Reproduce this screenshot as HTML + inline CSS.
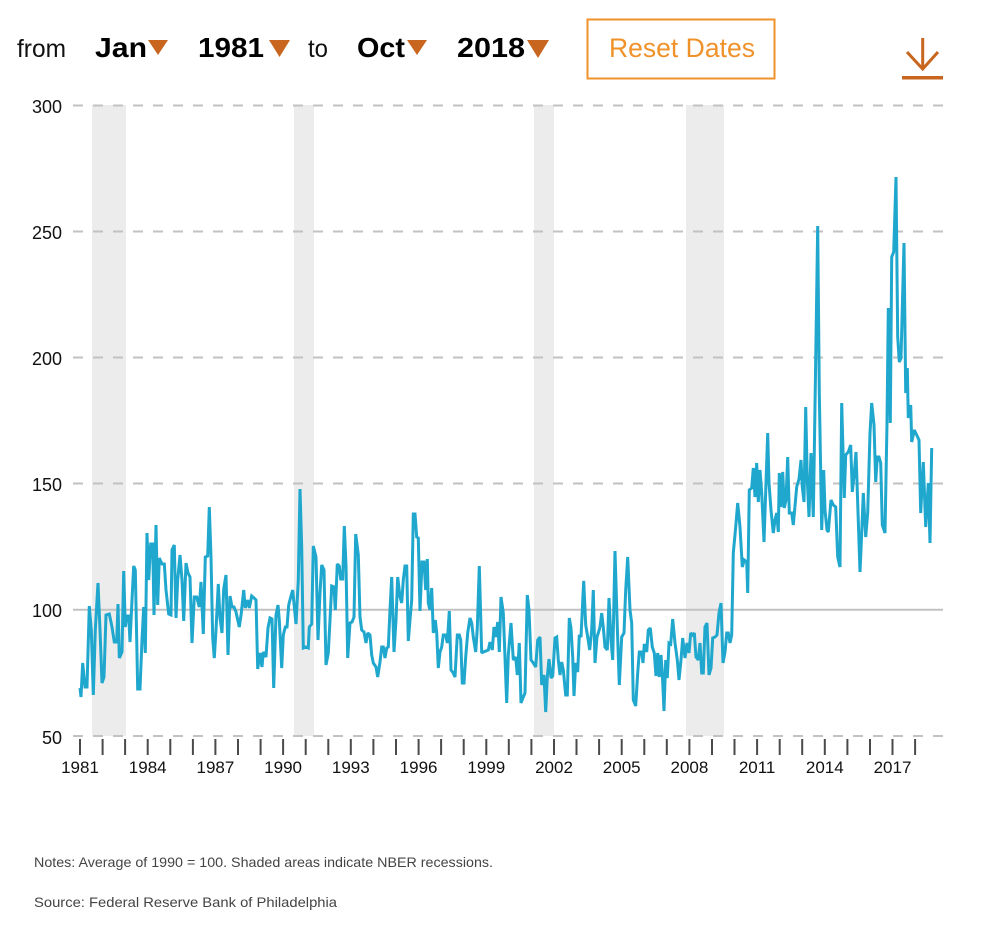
<!DOCTYPE html>
<html>
<head>
<meta charset="utf-8">
<style>
html,body{margin:0;padding:0;background:#fff;}
svg{display:block;}
text{font-family:"Liberation Sans",Arial,sans-serif;}
</style>
</head>
<body>
<svg width="988" height="932" viewBox="0 0 988 932" xmlns="http://www.w3.org/2000/svg">
<rect x="0" y="0" width="988" height="932" fill="#fff"/>

<!-- Header -->
<text x="17" y="57" font-size="25" fill="#111" textLength="49" lengthAdjust="spacingAndGlyphs">from</text>
<text x="95" y="57" font-size="28" font-weight="bold" fill="#000" textLength="52" lengthAdjust="spacingAndGlyphs">Jan</text>
<polygon points="148,40 168,40 158,55" fill="#c8661f"/>
<text x="198" y="57" font-size="28" font-weight="bold" fill="#000" textLength="66" lengthAdjust="spacingAndGlyphs">1981</text>
<polygon points="269,40 290,40 279.5,57" fill="#c8661f"/>
<text x="308" y="57" font-size="25" fill="#111" textLength="20" lengthAdjust="spacingAndGlyphs">to</text>
<text x="357" y="57" font-size="28" font-weight="bold" fill="#000" textLength="48" lengthAdjust="spacingAndGlyphs">Oct</text>
<polygon points="407,40 427,40 417,55" fill="#c8661f"/>
<text x="457" y="57" font-size="28" font-weight="bold" fill="#000" textLength="68" lengthAdjust="spacingAndGlyphs">2018</text>
<polygon points="527,40 549,40 538,58" fill="#c8661f"/>

<rect x="587.5" y="19.5" width="187" height="59" fill="none" stroke="#f0922a" stroke-width="2"/>
<text x="609" y="57" font-size="27" fill="#f0922a" textLength="146" lengthAdjust="spacingAndGlyphs">Reset Dates</text>

<!-- download icon -->
<g stroke="#c8661f" fill="none" stroke-width="3">
  <line x1="922.7" y1="38" x2="922.7" y2="69"/>
  <polyline points="907,52 922.7,69 938,52"/>
</g>
<rect x="902" y="76" width="41" height="3.5" fill="#c8661f"/>

<!-- recession shading -->
<g fill="#ececec">
  <rect x="92" y="105" width="34" height="631"/>
  <rect x="294" y="105" width="20" height="631"/>
  <rect x="534" y="105" width="20" height="631"/>
  <rect x="686" y="105" width="38" height="631"/>
</g>

<!-- grid -->
<g stroke="#c2c2c2" stroke-width="2" stroke-dasharray="10,10">
  <line x1="73" y1="105.5" x2="943" y2="105.5"/>
  <line x1="73" y1="231.5" x2="943" y2="231.5"/>
  <line x1="73" y1="357.5" x2="943" y2="357.5"/>
  <line x1="73" y1="483.5" x2="943" y2="483.5"/>
  <line x1="73" y1="736" x2="943" y2="736"/>
</g>
<line x1="73" y1="609.8" x2="943" y2="609.8" stroke="#c2c2c2" stroke-width="2"/>

<!-- y labels -->
<g font-size="18" fill="#111" text-anchor="end">
  <text x="62" y="113">300</text>
  <text x="62" y="239">250</text>
  <text x="62" y="365">200</text>
  <text x="62" y="491">150</text>
  <text x="62" y="617">100</text>
  <text x="62" y="744">50</text>
</g>

<!-- x ticks -->
<g stroke="#4a4a4a" stroke-width="2">
<line x1="80" y1="739" x2="80" y2="755"/>
<line x1="102.6" y1="739" x2="102.6" y2="755"/>
<line x1="125.1" y1="739" x2="125.1" y2="755"/>
<line x1="147.7" y1="739" x2="147.7" y2="755"/>
<line x1="170.3" y1="739" x2="170.3" y2="755"/>
<line x1="192.9" y1="739" x2="192.9" y2="755"/>
<line x1="215.4" y1="739" x2="215.4" y2="755"/>
<line x1="238" y1="739" x2="238" y2="755"/>
<line x1="260.6" y1="739" x2="260.6" y2="755"/>
<line x1="283.1" y1="739" x2="283.1" y2="755"/>
<line x1="305.7" y1="739" x2="305.7" y2="755"/>
<line x1="328.3" y1="739" x2="328.3" y2="755"/>
<line x1="350.8" y1="739" x2="350.8" y2="755"/>
<line x1="373.4" y1="739" x2="373.4" y2="755"/>
<line x1="396" y1="739" x2="396" y2="755"/>
<line x1="418.6" y1="739" x2="418.6" y2="755"/>
<line x1="441.1" y1="739" x2="441.1" y2="755"/>
<line x1="463.7" y1="739" x2="463.7" y2="755"/>
<line x1="486.3" y1="739" x2="486.3" y2="755"/>
<line x1="508.8" y1="739" x2="508.8" y2="755"/>
<line x1="531.4" y1="739" x2="531.4" y2="755"/>
<line x1="554" y1="739" x2="554" y2="755"/>
<line x1="576.5" y1="739" x2="576.5" y2="755"/>
<line x1="599.1" y1="739" x2="599.1" y2="755"/>
<line x1="621.7" y1="739" x2="621.7" y2="755"/>
<line x1="644.3" y1="739" x2="644.3" y2="755"/>
<line x1="666.8" y1="739" x2="666.8" y2="755"/>
<line x1="689.4" y1="739" x2="689.4" y2="755"/>
<line x1="712" y1="739" x2="712" y2="755"/>
<line x1="734.5" y1="739" x2="734.5" y2="755"/>
<line x1="757.1" y1="739" x2="757.1" y2="755"/>
<line x1="779.7" y1="739" x2="779.7" y2="755"/>
<line x1="802.2" y1="739" x2="802.2" y2="755"/>
<line x1="824.8" y1="739" x2="824.8" y2="755"/>
<line x1="847.4" y1="739" x2="847.4" y2="755"/>
<line x1="870" y1="739" x2="870" y2="755"/>
<line x1="892.5" y1="739" x2="892.5" y2="755"/>
<line x1="915.1" y1="739" x2="915.1" y2="755"/>
</g>

<!-- x labels -->
<g font-size="17" fill="#111" text-anchor="middle">
<text x="80" y="773">1981</text>
<text x="147.7" y="773">1984</text>
<text x="215.4" y="773">1987</text>
<text x="283.1" y="773">1990</text>
<text x="350.8" y="773">1993</text>
<text x="418.6" y="773">1996</text>
<text x="486.3" y="773">1999</text>
<text x="554" y="773">2002</text>
<text x="621.7" y="773">2005</text>
<text x="689.4" y="773">2008</text>
<text x="757.1" y="773">2011</text>
<text x="824.8" y="773">2014</text>
<text x="892.5" y="773">2017</text>
</g>

<!-- data line -->
<polyline fill="none" stroke="#1fa7cd" stroke-width="3" stroke-linejoin="miter" stroke-miterlimit="2" points="
80,688 81,697 82.7,663 85,687 87,687 89.3,606 91.3,630 93.3,695 95.3,630 98,583 100,630 102,683 104,677 106,615 109.3,614 112,627 114.3,642 116.7,642 118,604 119.3,658 122,652 123.7,571 125.3,627 126.7,616 128.7,616 130,642 132,600 133.7,566 135.3,570 137.7,689 140,689 142,640 143.7,607 145.3,653 147,533 148.7,580 150.7,544 152.7,544 154,615 156,525 157.7,605 159.3,558 162,564 164.3,564 166,590 168.7,614 171,615 172,550 174.3,545 176,618 177.7,580 180,555 182,580 183.7,621 186,563 188,573 190,577 192,643 194.3,597 196.7,597 199.3,607 201,582 203.3,634 205.3,557 207.7,556 209.3,507 211,557 212.7,638 214.3,658 216,630 218.3,584 220,618 222,633 223.7,589 226,575 228,655 230,596 232,607 234,607 236,612 239.3,627 241.3,613 243.7,590 245.3,608 247.7,600 249.3,608 251.7,596 254,598 256,600 257.7,669 260,653 262,667 263.3,652 266,657 268,628 270,618 272,619 273.7,688 276,615 278,605 279.3,620 281.7,668 283.3,635 285.3,627 287,627 288.7,605 291,596 292.7,590
296,624 298.3,580 300,489 301.7,547 303.3,648 305.7,647 308.3,648 309.3,627 311.7,624 313.3,546 316,557 318,640 320,593 321.7,565 324,570 326,665 328.3,653 330,620 331.7,586 334,587 335.3,610 337.3,564 339.3,566 340.7,579 342.7,579 344.3,526 346,565 347.7,658 350,623 352,622 354,617 355.7,534 358.3,555 360,617 361.7,630 364,632 366,643 367.7,633 370,635 371.7,655 373.3,663 376,667 377.7,677 380,662 381.7,647 383.3,647 385,658 386.7,648 388.3,647 390,610 391.7,577 394,652 396,620 397.7,577 400,597 401.7,603 403.3,580 405,566 406.7,566 408.3,641 410,620 411.7,600 413.3,514 415,514 416.7,537 418.3,538 420,611 422,562 424,562 425.7,590 427.3,559 428.3,603 430,610 431.7,588 433.3,633 435.3,620 436.7,633 438.3,668 440,652 441.7,647 443.3,635 445.7,635 447.3,643 449.3,611 451,670 453.3,673 455,677 457.3,635 459.3,635 460.7,640 462.3,683 464,683 465.7,657 467.7,633 470,618 471.7,623 473.3,637 475.7,652 477.3,628 479.3,566 481.7,653 483.3,652 486,651 488.3,650 490,642 492.3,650 494,627 496,637 497.7,622 499.3,652 501,597 503.3,613
506.7,703 508.3,655 511,623 513.3,660 515.7,657 517.3,675 519.3,643 521,703 523.3,697 525,693 527.3,595 529,610 531,660 533.3,663 535.7,667 537.7,640 540,637 541.7,685 544,675 545.7,712 547.3,677 549,659 551,678 552.7,676 555,638 556.7,637 558.3,660 560,675 561.7,662 563.3,670 565.7,695 567.3,695 569.3,618 571,628 572.7,657 574,696 575.7,663 577.7,672 579.3,635 581,637 583.7,581 585.7,625 587.7,637 589.7,650 591.7,630 593.3,590 595,663 597,637 598.3,633 600,627 601.7,613 603.3,627 605,647 607.3,650 609,598 611,640 612.7,660 615,551 617.3,627 619.3,685 621.7,637 624,633 625.7,590 627.7,557 630,610 631.7,623 633.3,700 635.7,706 637.7,673 639.3,652 641.7,652 643,663 644.3,644 646.7,652 648.3,630 650.3,628 652.3,647 654.3,653 656,676 657.7,653 659.3,677 661,655 662.3,673 664,711 665.7,660 667.3,678 669,643 670.7,644 672.7,619 675,643 677.3,660 679,680 681,660 682.7,638 685,658 687,643 689,653 690.7,633 692.7,635 694.3,633 696,657 698.3,660 700,643 701.7,673 703.3,673 705,627 707,623 709,675 711,668 712.7,638 715,637 717,635 719,613 721,603 723,663 725,652 726.7,633 728.3,633 730,643 731.7,635
733.3,553 735.7,527 737.7,503 740,527 742.3,567 744.3,560 746.7,562 747.7,593 749.3,490 751.7,488 753.3,468 755,497 756.7,463 758.3,502 760,470 761.7,493 764,542 766,483 767.7,433 769,483 771,510 773.3,533 775,520 776.7,513 778.3,532 779.3,473 781,507 782.7,472 784.3,508 786,500 787.7,457 789.3,513 791.7,513 793.3,525
796.7,487 799,479 801,460 802.3,487 804,502 805.7,407 807.3,480 809,517 811,453 813.3,517 815.7,360 817.7,226 819.3,393 821.7,530 823.7,470 825,510 827,530 828.3,532 831,500 833.3,505 835.7,507 837.7,557 840,567 841.7,403 844.3,498 845.7,455 848.3,452 850.7,445 852.3,492 854.3,473 856,452 857.7,503 860,572 861.7,533 863.3,493 865.7,537 867.7,513 870,433 871.7,403 874,425 875.7,482 877.3,457 879,457 880.7,463 882.3,525 885,533 887,423 888.3,308 890.3,423 891.7,257 893.7,252 896,177 897.7,337 899.3,362 901,358 904,243 905.7,393 907.3,368 908.3,418 910.7,405 911.7,442 914.3,430 916.7,435 919,440 920.7,513 923.3,462 925.7,527 928.3,483 930,543 931.7,448"/>

<!-- notes -->
<text x="34" y="867" font-size="14" fill="#444" textLength="459" lengthAdjust="spacingAndGlyphs">Notes: Average of 1990 = 100. Shaded areas indicate NBER recessions.</text>
<text x="34" y="907" font-size="14" fill="#444" textLength="303" lengthAdjust="spacingAndGlyphs">Source: Federal Reserve Bank of Philadelphia</text>
</svg>
</body>
</html>
